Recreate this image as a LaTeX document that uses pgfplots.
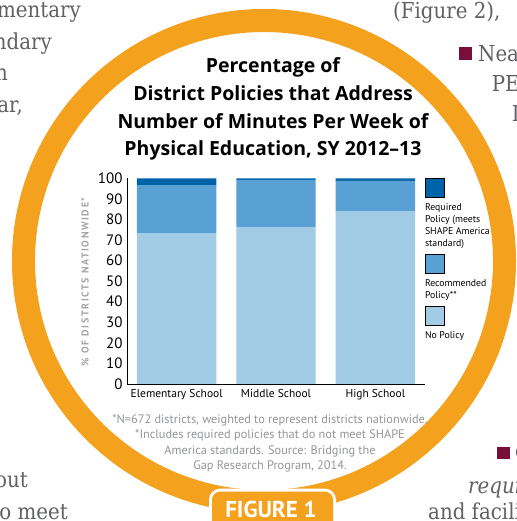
\documentclass[border=0pt]{standalone}
\usepackage{pgfplots}
\pgfplotsset{compat=1.18}
\usepackage{fontspec}
\setmainfont{PT Sans}
\newfontfamily\titlefont[Ligatures=TeX]{Open Sans}
\newfontfamily\bodyfont[FakeStretch=0.9]{DejaVu Serif}
\definecolor{ring}{HTML}{F4A11E}
\definecolor{reqc}{HTML}{0063A8}
\definecolor{recc}{HTML}{59A0D5}
\definecolor{noc}{HTML}{A2CCE6}
\definecolor{notegray}{HTML}{939598}
\definecolor{ylabgray}{HTML}{A2A4A7}
\definecolor{bodygray}{HTML}{606163}
\definecolor{bulletc}{HTML}{7A0E3A}
\pgfplotsset{
  sqleg/.style={legend image code/.code={\path (0,0); \draw[##1,overlay] (0bp,#1+13.3bp) rectangle (19.5bp,#1+32.7bp);}}
}
\begin{document}
\begin{tikzpicture}
\useasboundingbox (0,0) rectangle (517bp,521bp);
\clip (0,0) rectangle (517bp,521bp);
\begin{scope}[x=1bp,y=-1bp,shift={(0bp,521bp)}]
  % ring
  \draw[ring, line width=23bp] (264,261) circle[radius=240.5bp];
  % body text fragments
  \begin{scope}[every node/.style={inner sep=0pt, text=bodygray, font=\bodyfont\fontsize{22bp}{26bp}\selectfont}]
    \node[anchor=base east] at (81,17.3) {mentary};
    \node[anchor=base east] at (52,49.3) {ndary};
    \node[anchor=base east] at (8,81) {n};
    \node[anchor=base east] at (23,113) {ar,};
    \node[anchor=base east] at (28,488) {out};
    \node[anchor=base east] at (68,519.5) {o meet};
    \node[anchor=base west] at (393,18.3) {(Figure 2),};
    \node[anchor=base west] at (478,61.7) {Nearly};
    \node[anchor=base west] at (491.7,91.7) {PE};
    \node[anchor=base west] at (511.7,121.7) {In};
    \node[anchor=base west] at (468,494) {\itshape required};
    \node[anchor=base west] at (428,520) {and facilities};
    \node[anchor=base west] at (515,459) {o};
  \end{scope}
  \fill[bulletc] (459,47) rectangle (472,60);
  \fill[bulletc] (497,447) rectangle (510,459);
  % figure label
  \fill[white, rounded corners=11bp] (209,488.7) rectangle (336,545);
  \fill[ring, rounded corners=8bp] (212,491.7) rectangle (333,545);
  \node[anchor=base, inner sep=0pt, text=white, font=\fontsize{23bp}{26bp}\selectfont\bfseries] at (271,518) {FIGURE 1};
  % footnote
  \node[anchor=base, inner sep=0pt, text=notegray, font=\fontsize{12.3bp}{15.5bp}\selectfont] at (270,423.3)
    {\begin{tabular}[t]{@{}c@{}}*N=672 districts, weighted to represent districts nationwide.\\
     **Includes required policies that do not meet SHAPE\\
     America standards. Source: Bridging the\\
     Gap Research Program, 2014.\end{tabular}};
\end{scope}
\begin{axis}[
  at={(127bp,137bp)}, anchor=south west,
  scale only axis, width=298bp, height=205.7bp,
  ybar stacked, bar width=0.8,
  xmin=-0.5, xmax=2.5, ymin=0, ymax=100,
  axis x line*=bottom, axis y line*=left,
  axis line style={black, line width=0.9bp},
  xtick={0,1,2},
  xticklabels={Elementary School, Middle School, High School},
  ytick={0,10,...,100},
  major tick length=0pt,
  /pgf/number format/assume math mode=true,
  xticklabel style={anchor=base, inner sep=0pt, yshift=-13.3bp, font=\fontsize{11.5bp}{14bp}\selectfont},
  yticklabel style={anchor=east, inner sep=0pt, xshift=-4.3bp, font=\fontsize{15bp}{17bp}\selectfont},
  ylabel={\% OF DISTRICTS NATIONWIDE*},
  ylabel style={at={(axis description cs:-0.1409,0.497)}, anchor=center, inner sep=0pt,
    text=ylabgray, font=\fontsize{10bp}{12bp}\selectfont\bfseries\addfontfeature{LetterSpace=16}},
  title={\begin{tabular}[t]{@{}c@{}}Percentage of\\District Policies that Address\\Number of Minutes Per Week of\\Physical Education, SY 2012–13\end{tabular}},
  title style={at={(axis description cs:0.5,1)}, anchor=base, inner sep=0pt, xshift=-3bp, yshift=99.5bp,
    font=\titlefont\fontsize{19.5bp}{27.6bp}\selectfont\bfseries},
  legend style={at={(axis description cs:1,1)}, anchor=north west, draw=none, fill=none,
    inner sep=0pt, outer sep=0pt, row sep=6.3bp, column sep=0pt,
    nodes={inner sep=0pt, outer sep=0pt, anchor=base west, text=black, font=\fontsize{9.8bp}{11.7bp}\selectfont}},
  reverse legend,
]
\addplot[fill=noc, draw=none, sqleg=0bp] coordinates {(0,73.4) (1,76.3) (2,84.1)};
\addlegendentry{\begin{tabular}[b]{@{}l@{}}\rule{0pt}{32.7bp}No Policy\end{tabular}}
\addplot[fill=recc, draw=none, sqleg=11.7bp] coordinates {(0,23.3) (1,22.9) (2,14.6)};
\addlegendentry{\begin{tabular}[b]{@{}l@{}}\rule{0pt}{32.7bp}Recommended\\Policy**\end{tabular}}
\addplot[fill=reqc, draw=none, sqleg=35.1bp] coordinates {(0,3.3) (1,0.8) (2,1.3)};
\addlegendentry{\begin{tabular}[b]{@{}l@{}}\rule{0pt}{32.7bp}Required\\Policy (meets\\SHAPE America\\standard)\end{tabular}}
\end{axis}
\end{tikzpicture}
\end{document}
